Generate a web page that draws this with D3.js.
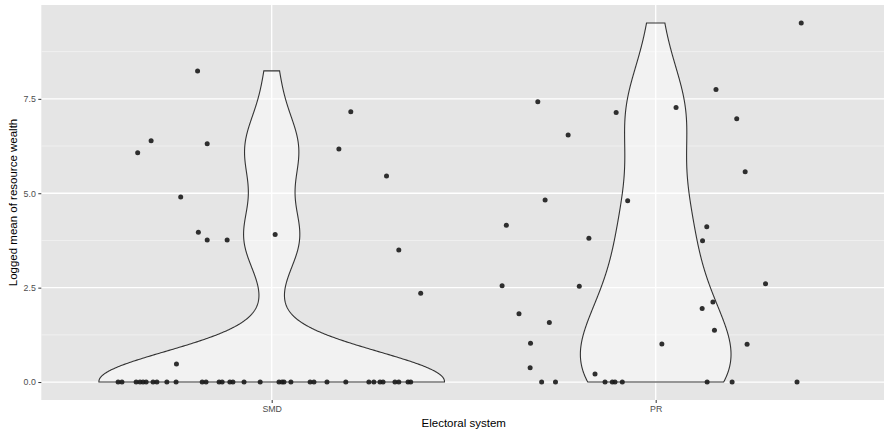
<html>
<head>
	<meta http-equiv="Content-Type" content="text/html; charset=utf-8" />
	<script src="https://cdn.jsdelivr.net/npm/d3@7/dist/d3.min.js" charset="utf-8"></script>
	<style type="text/css">
	body {
		margin: 0;
		background-color: #FFFFFF;
	}
	text {
		font-family: "Liberation Sans", Arial, sans-serif;
	}
	</style>
</head>
<body>

	<svg width="884" height="432" version="1.1" xmlns="http://www.w3.org/2000/svg"></svg>

	<script type="text/javascript">
		/* data */
		var v_Categories = ["SMD" ,"PR"];

		var v_SMDValues = [8.24 ,6.07 ,6.39 ,6.31 ,4.90 ,3.97 ,3.76 ,3.76 ,3.91 ,0.48 ,7.16 ,6.17 ,5.46 ,3.50 ,2.35
		                  ,0 ,0 ,0 ,0 ,0 ,0 ,0 ,0 ,0 ,0 ,0 ,0 ,0 ,0 ,0 ,0 ,0 ,0
		                  ,0 ,0 ,0 ,0 ,0 ,0 ,0 ,0 ,0 ,0 ,0 ,0 ,0 ,0 ,0 ,0];
		var v_SMDJitter = [-0.193 ,-0.349 ,-0.314 ,-0.168 ,-0.237 ,-0.191 ,-0.168 ,-0.116 ,0.009 ,-0.248 ,0.206 ,0.175 ,0.299 ,0.331 ,0.388
		                  ,-0.400 ,-0.390 ,-0.353 ,-0.343 ,-0.335 ,-0.327 ,-0.309 ,-0.299 ,-0.273 ,-0.249 ,-0.181 ,-0.171 ,-0.137 ,-0.129 ,-0.109 ,-0.101 ,-0.072 ,-0.030
		                  ,0.019 ,0.027 ,0.032 ,0.050 ,0.100 ,0.110 ,0.144 ,0.193 ,0.253 ,0.266 ,0.282 ,0.290 ,0.321 ,0.331 ,0.355 ,0.362];

		var v_PRValues  = [9.51 ,7.42 ,7.14 ,7.27 ,7.75 ,6.97 ,6.54 ,5.57 ,4.82 ,4.80 ,4.15 ,3.81 ,4.11 ,3.74
		                  ,2.55 ,2.54 ,2.60 ,2.12 ,1.95 ,1.81 ,1.58 ,1.37 ,1.03 ,1.01 ,1.00 ,0.38 ,0.21
		                  ,0 ,0 ,0 ,0 ,0 ,0 ,0 ,0 ,0];
		var v_PRJitter  = [0.379 ,-0.307 ,-0.103 ,0.053 ,0.157 ,0.211 ,-0.228 ,0.233 ,-0.288 ,-0.073 ,-0.389 ,-0.174 ,0.133 ,0.122
		                  ,-0.400 ,-0.199 ,0.286 ,0.149 ,0.121 ,-0.356 ,-0.277 ,0.153 ,-0.326 ,0.016 ,0.238 ,-0.327 ,-0.158
		                  ,-0.297 ,-0.261 ,-0.132 ,-0.113 ,-0.106 ,-0.087 ,0.134 ,0.199 ,0.368];

		var v_YTicks     = [0 ,2.5 ,5 ,7.5];
		var v_Bandwidth  = [0.8 ,1.2];

		var v_Groups = [
			{name: v_Categories[0] ,values: v_SMDValues ,jitter: v_SMDJitter ,bw: v_Bandwidth[0]},
			{name: v_Categories[1] ,values: v_PRValues  ,jitter: v_PRJitter  ,bw: v_Bandwidth[1]}
		];

		var v_SVG   = d3.select("svg");
		var v_Left  = 41.3;
		var v_Right = 886.1;
		var v_Top   = 5;
		var v_Bot   = 400;

		var v_All    = v_SMDValues.concat(v_PRValues);
		var v_YMin   = d3.min(v_All);
		var v_YMax   = d3.max(v_All);
		var v_YRange = v_YMax - v_YMin;

		var v_X = d3.scaleLinear().domain([0.4 ,2.6]).range([v_Left ,v_Right]);
		var v_Y = d3.scaleLinear().domain([v_YMin - 0.05 * v_YRange ,v_YMax + 0.05 * v_YRange]).range([v_Bot ,v_Top]);

		/* panel */
		v_SVG.append("rect")
		.attr("x" ,v_Left)
		.attr("y" ,v_Top)
		.attr("width" ,v_Right - v_Left)
		.attr("height" ,v_Bot - v_Top)
		.attr("fill" ,"#E5E5E5");

		/* minor grid between the major ticks */
		var v_Minor = v_YTicks.map(function(t) { return t + 1.25; });
		v_SVG.selectAll(".minor").data(v_Minor).enter().append("line")
		.attr("x1" ,v_Left).attr("x2" ,v_Right)
		.attr("y1" ,function(d) { return v_Y(d); })
		.attr("y2" ,function(d) { return v_Y(d); })
		.attr("stroke" ,"#F4F4F4")
		.attr("stroke-width" ,0.7);

		v_SVG.selectAll(".major").data(v_YTicks).enter().append("line")
		.attr("x1" ,v_Left).attr("x2" ,v_Right)
		.attr("y1" ,function(d) { return v_Y(d); })
		.attr("y2" ,function(d) { return v_Y(d); })
		.attr("stroke" ,"#FFFFFF")
		.attr("stroke-width" ,1.3);

		v_SVG.selectAll(".vgrid").data(v_Groups).enter().append("line")
		.attr("x1" ,function(d ,i) { return v_X(i + 1); })
		.attr("x2" ,function(d ,i) { return v_X(i + 1); })
		.attr("y1" ,v_Top).attr("y2" ,v_Bot)
		.attr("stroke" ,"#FFFFFF")
		.attr("stroke-width" ,1.3);

		/* gaussian kernel density, trimmed to the data range */
		function kde(i_Values ,i_BW)
		{
			var v_Lo = d3.min(i_Values);
			var v_Hi = d3.max(i_Values);
			var v_N  = i_Values.length;

			return d3.range(512).map(function(k)
			{
				var v_Pos = v_Lo + (v_Hi - v_Lo) * k / 511;
				var v_Sum = d3.sum(i_Values ,function(v)
				{
					var u = (v_Pos - v) / i_BW;
					return Math.exp(-0.5 * u * u);
				});
				return {y: v_Pos ,d: v_Sum / (v_N * i_BW * Math.sqrt(2 * Math.PI))};
			});
		}

		v_Groups.forEach(function(g) { g.dens = kde(g.values ,g.bw); });
		var v_MaxD = d3.max(v_Groups ,function(g) { return d3.max(g.dens ,function(p) { return p.d; }); });

		v_Groups.forEach(function(g ,i)
		{
			var v_Center = i + 1;
			var v_Area = d3.area()
			.y(function(p) { return v_Y(p.y); })
			.x0(function(p) { return v_X(v_Center - 0.45 * p.d / v_MaxD); })
			.x1(function(p) { return v_X(v_Center + 0.45 * p.d / v_MaxD); });

			v_SVG.append("path")
			.attr("d" ,v_Area(g.dens))
			.attr("fill" ,"#FFFFFF")
			.attr("fill-opacity" ,0.5)
			.attr("stroke" ,"#333333")
			.attr("stroke-width" ,1.1);
		});

		/* jittered points */
		v_Groups.forEach(function(g ,i)
		{
			v_SVG.append("g").selectAll("circle").data(g.values).enter().append("circle")
			.attr("cx" ,function(v ,k) { return v_X(i + 1 + g.jitter[k]); })
			.attr("cy" ,function(v) { return v_Y(v); })
			.attr("r" ,2.5)
			.attr("fill" ,"#1A1A1A")
			.attr("fill-opacity" ,0.9);
		});

		/* axes */
		var v_YAxis = v_SVG.append("g")
		.attr("transform" ,"translate(" + v_Left + ",0)")
		.call(d3.axisLeft(v_Y).tickValues(v_YTicks).tickFormat(d3.format(".1f")).tickSize(3).tickPadding(2.5));

		var v_XAxis = v_SVG.append("g")
		.attr("transform" ,"translate(0," + v_Bot + ")")
		.call(d3.axisBottom(v_X).tickValues([1 ,2]).tickFormat(function(d) { return v_Categories[d - 1]; }).tickSize(3).tickPadding(3));

		[v_YAxis ,v_XAxis].forEach(function(a)
		{
			a.select(".domain").remove();
			a.selectAll("line").attr("stroke" ,"#333333");
			a.selectAll("text")
			.attr("fill" ,"#4D4D4D")
			.style("font-size" ,"8.8px")
			.style("font-family" ,"'Liberation Sans', Arial, sans-serif");
		});

		v_SVG.append("text")
		.attr("transform" ,"translate(17," + ((v_Top + v_Bot) / 2) + ") rotate(-90)")
		.attr("text-anchor" ,"middle")
		.attr("fill" ,"#000000")
		.style("font-size" ,"11.5px")
		.text("Logged mean of resource wealth");

		v_SVG.append("text")
		.attr("x" ,(v_Left + v_Right) / 2)
		.attr("y" ,427)
		.attr("text-anchor" ,"middle")
		.attr("fill" ,"#000000")
		.style("font-size" ,"11.5px")
		.text("Electoral system");
	</script>

</body>
</html>
